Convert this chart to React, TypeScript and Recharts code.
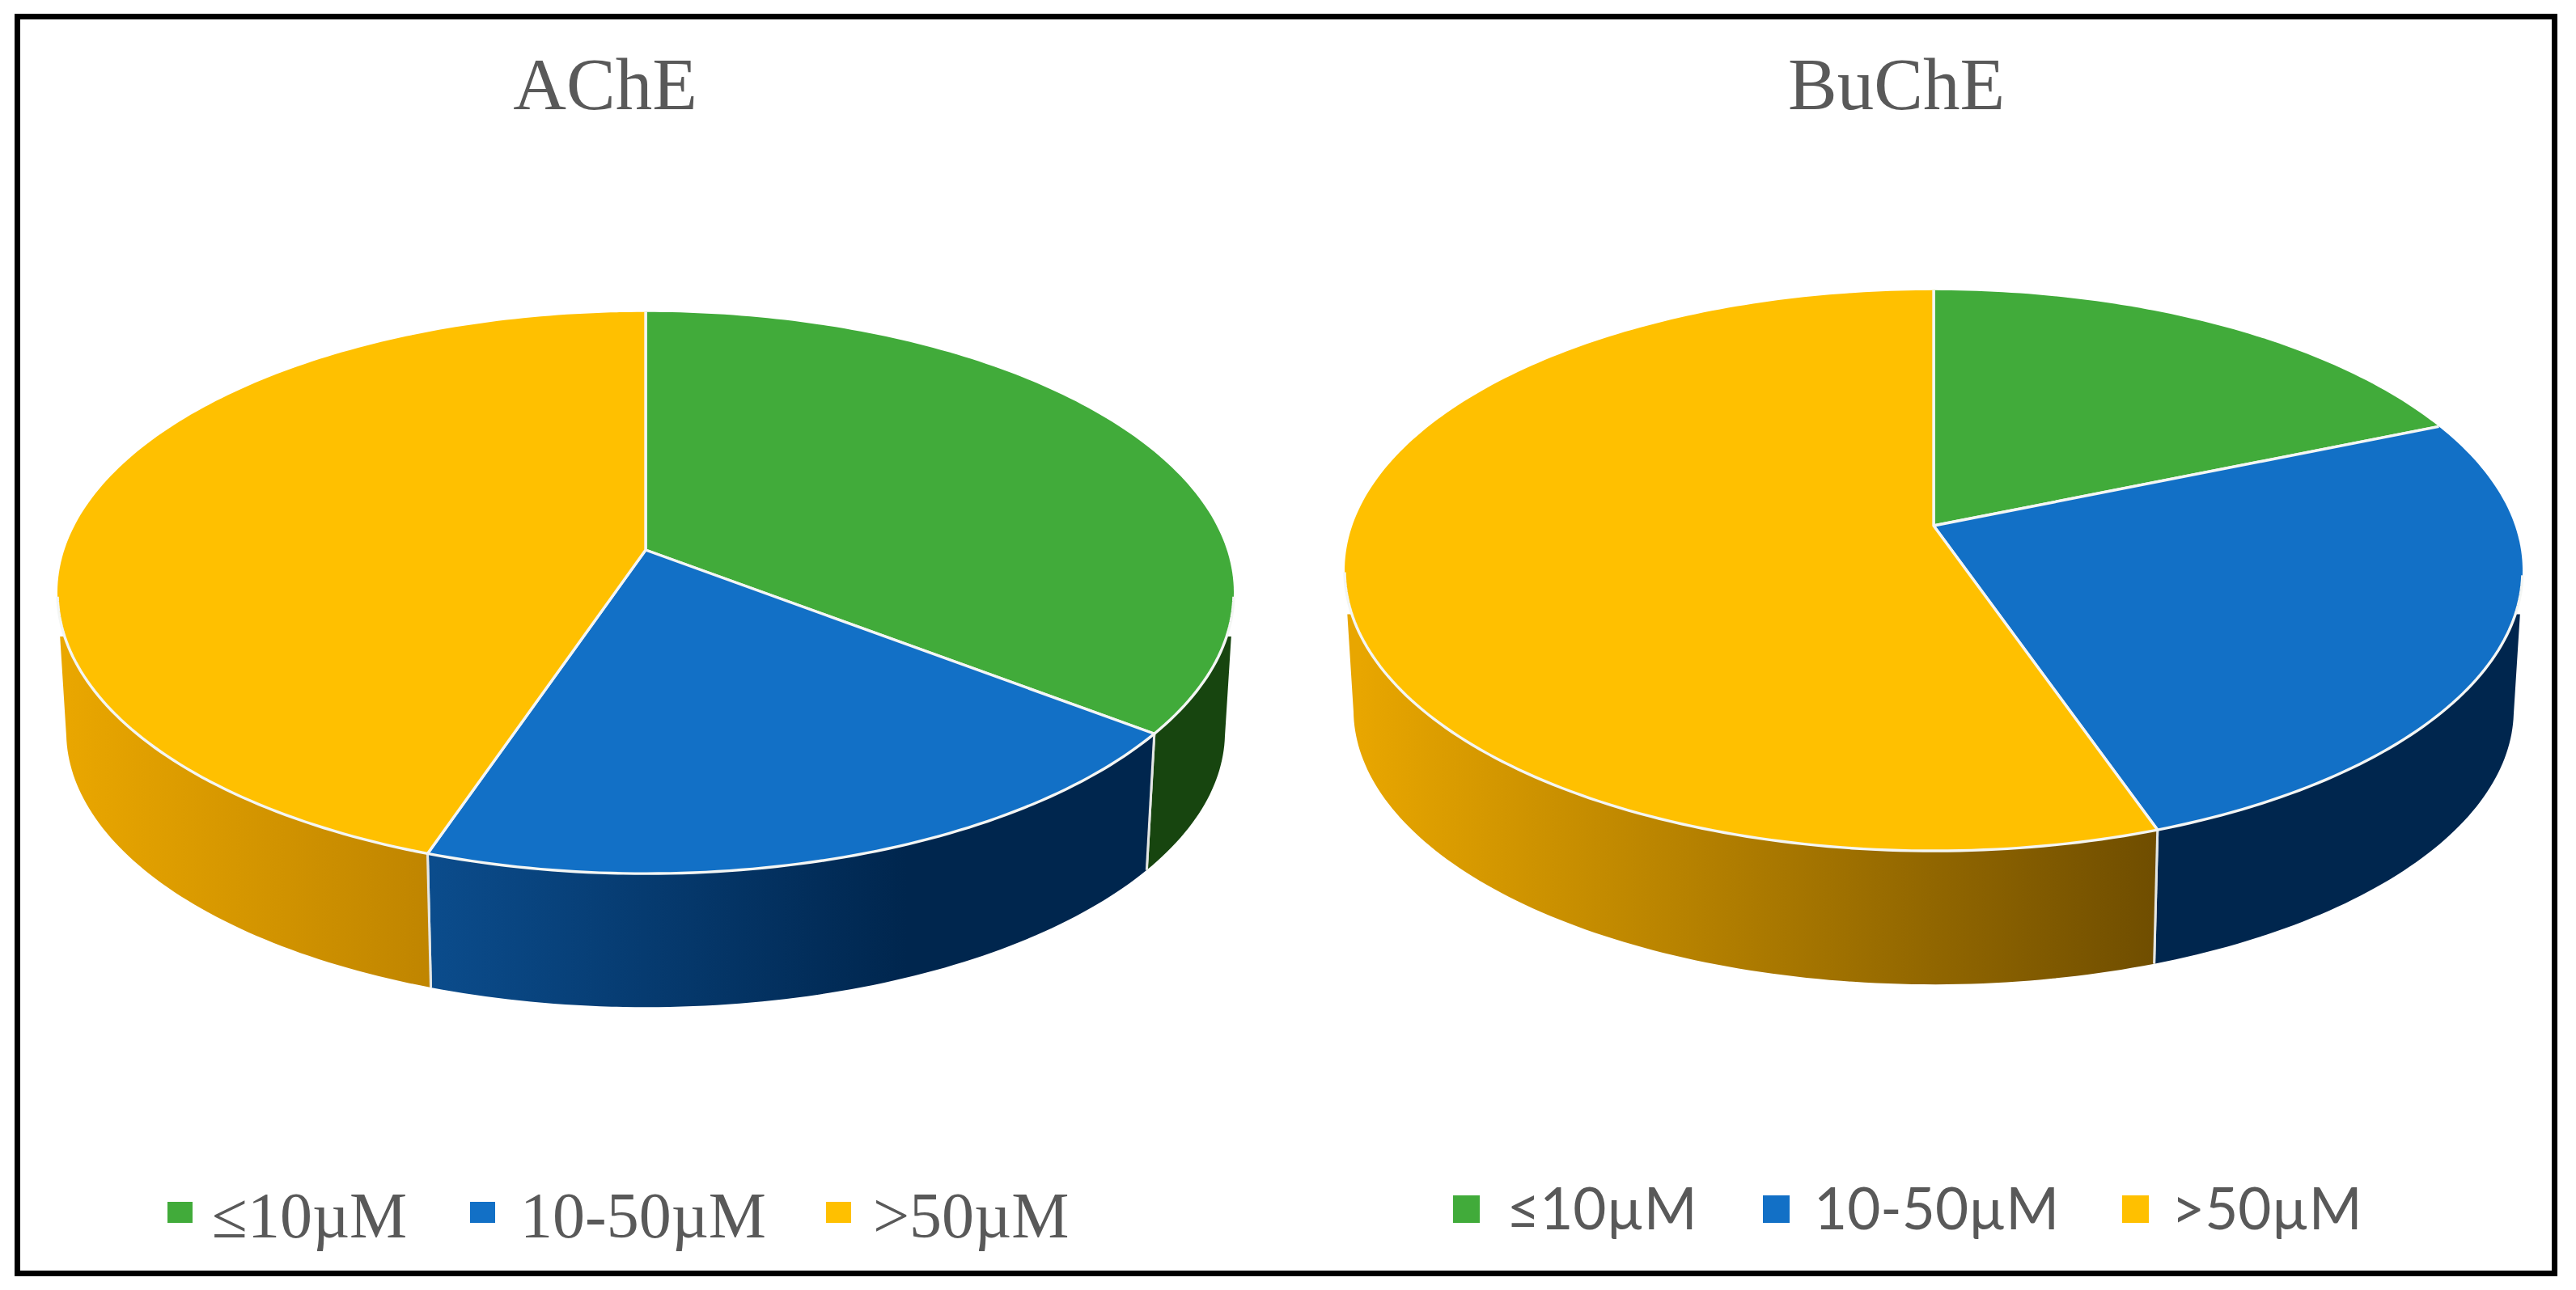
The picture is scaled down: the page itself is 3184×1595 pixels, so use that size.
import React from "react";
import { PieChart, Pie, Cell, Legend } from "recharts";

// ---- data ----
const categories = ["≤10µM", "10-50µM", ">50µM"];
const acheValues = [35.4, 19.8, 44.8];
const bucheValues = [18.7, 26.0, 55.3];

// ---- styles ----
const topColors = ["#41AB3A", "#1270C6", "#FFC000"];
const CW = 1592;
const CH = 1595;
const RIM = "#F4F6F4";

type Wall = { x1: number; x2: number; stops: [number, string][] };
type Cfg = {
  id: string; title: string; values: number[]; cx: number; cy: number; radius: number;
  flat: number; tilt: number; titleX: number; titleSize: number; titleY: number;
  walls: Wall[]; legendFont: string; legendSize: number; legendBaseline: number;
  sqX: number[]; sqW: number; sqTop: number; sqH: number; textX: number[];
};

const GREEN_WALL: [number, string][] = [[0, "#17450F"], [1, "#17450F"]];
const NAVY: [number, string][] = [[0, "#00264E"], [1, "#00264E"]];

const leftCfg: Cfg = {
  id: "l", title: "AChE", values: acheValues, cx: 798, cy: 680, radius: 718.5, flat: 0.472, tilt: 0.1525,
  titleX: 748, titleSize: 91, titleY: 135,
  walls: [
    { x1: 0, x2: 1, stops: GREEN_WALL },
    { x1: 533, x2: 1120, stops: [[0, "#0B4C8C"], [1, "#00264E"]] },
    { x1: 74, x2: 1000, stops: [[0, "#EAA700"], [1, "#946200"]] },
  ],
  legendFont: "'Liberation Serif'", legendSize: 80, legendBaseline: 1530,
  sqX: [207, 581, 1021], sqW: 31, sqTop: 1486, sqH: 26, textX: [262, 643, 1079],
};

const rightCfg: Cfg = {
  id: "r", title: "BuChE", values: bucheValues, cx: 2390 - CW, cy: 650, radius: 718.6, flat: 0.47, tilt: 0.16,
  titleX: 2344 - CW, titleSize: 91, titleY: 135,
  walls: [
    { x1: 0, x2: 1, stops: GREEN_WALL },
    { x1: 0, x2: 1, stops: NAVY },
    { x1: 1680 - CW, x2: 2660 - CW, stops: [[0, "#E8A600"], [1, "#704E00"]] },
  ],
  legendFont: "Lato", legendSize: 71, legendBaseline: 1520,
  sqX: [1796 - CW, 2179 - CW, 2623 - CW], sqW: 33, sqTop: 1478, sqH: 34, textX: [1862 - CW, 2242 - CW, 2684 - CW],
};

function projector(p: any, cfg: Cfg) {
  const a = p.outerRadius;
  const b = a * cfg.flat;
  const k = cfg.tilt;
  return (deg: number): [number, number] => {
    const t = (deg * Math.PI) / 180;
    const u = Math.cos(t);
    const v = Math.sin(t);
    const w = 1 + k * v;
    return [p.cx + (a * u) / w, p.cy - (b * v) / w];
  };
}

function angleRange(p: any): number[] {
  const s = p.startAngle;
  const e = p.endAngle;
  const n = Math.max(2, Math.ceil(Math.abs(e - s)));
  const out: number[] = [];
  for (let i = 0; i <= n; i++) out.push(s + ((e - s) * i) / n);
  return out;
}

const fmt = (pt: [number, number]) => `${pt[0].toFixed(2)},${pt[1].toFixed(2)}`;
const isFront = (deg: number, cfg: Cfg) => Math.sin((deg * Math.PI) / 180) <= -cfg.tilt;

function makeTop(cfg: Cfg) {
  return (p: any) => {
    const at = projector(p, cfg);
    const pts = angleRange(p).map(at);
    const fill = `M${p.cx},${p.cy}L` + pts.map(fmt).join("L") + "Z";
    const spokes = `M${fmt(at(p.startAngle))}L${p.cx},${p.cy}L${fmt(at(p.endAngle))}`;
    const rimPts = angleRange(p).filter((d) => isFront(d, cfg)).map(at);
    return (
      <g>
        <path d={fill} fill={p.fill} stroke="none" />
        <path d={spokes} fill="none" stroke={RIM} strokeWidth={3.4} strokeLinejoin="round" />
        {rimPts.length > 1 && (
          <path d={"M" + rimPts.map(fmt).join("L")} fill="none" stroke={RIM} strokeWidth={3.4} strokeLinecap="butt" />
        )}
      </g>
    );
  };
}

function makeWall(cfg: Cfg) {
  return (p: any) => {
    const at = projector(p, cfg);
    const a = p.outerRadius;
    const b = a * cfg.flat;
    const k = cfg.tilt;
    const up = b / (1 + k);
    const down = b / (1 - k);
    const ellipseCy = p.cy + (down - up) / 2;
    const lower = (pt: [number, number]): [number, number] => [
      p.cx + 0.985 * (pt[0] - p.cx),
      ellipseCy + 172 + 0.98 * (pt[1] - ellipseCy),
    ];
    const front = angleRange(p).filter((d) => isFront(d, cfg));
    if (front.length < 2) return <g />;
    const tops = front.map(at);
    const bots = tops.map(lower).reverse();
    const idx = p.index ?? categories.indexOf(p.name);
    const wall = cfg.walls[idx];
    const gid = `wall-${cfg.id}-${idx}`;
    const seams: [number, number][] = [];
    [p.startAngle, p.endAngle].forEach((d: number) => {
      if (isFront(d, cfg)) seams.push(at(d));
    });
    return (
      <g>
        <defs>
          <linearGradient id={gid} gradientUnits="userSpaceOnUse" x1={wall.x1} x2={wall.x2} y1={0} y2={0}>
            {wall.stops.map(([o, c]) => (
              <stop key={o} offset={o} stopColor={c} />
            ))}
          </linearGradient>
          <clipPath id={`${gid}-clip`}>
            <rect x={0} y={ellipseCy + 54} width={CW} height={CH} />
          </clipPath>
        </defs>
        <path
          d={"M" + tops.concat(bots).map(fmt).join("L") + "Z"}
          fill={`url(#${gid})`}
          stroke="none"
          clipPath={`url(#${gid}-clip)`}
        />
        {seams.map((s, i) => {
          const l = lower(s);
          return <line key={i} x1={s[0]} y1={s[1]} x2={l[0]} y2={l[1]} stroke="#E4E6E4" strokeWidth={3} />;
        })}
      </g>
    );
  };
}

function makeLegend(cfg: Cfg) {
  return (props: any) => {
    const names = ((props.payload || []) as any[]).filter((it) => it.type !== "none").map((it) => it.value);
    const items = categories.filter((c) => names.includes(c));
    return (
      <svg width={CW} height={CH} style={{ display: "block", overflow: "visible" }}>
        {items.map((name) => {
          const i = categories.indexOf(name);
          return (
            <g key={name}>
              <rect x={cfg.sqX[i]} y={cfg.sqTop} width={cfg.sqW} height={cfg.sqH} fill={topColors[i]} />
              <text x={cfg.textX[i]} y={cfg.legendBaseline} fontFamily={cfg.legendFont} fontSize={cfg.legendSize} fill="#595959">
                {name}
              </text>
            </g>
          );
        })}
      </svg>
    );
  };
}

function OnePie({ cfg, left }: { cfg: Cfg; left: number }) {
  const rows = categories.map((name, i) => ({ name, value: cfg.values[i] }));
  const common = {
    data: rows, dataKey: "value", nameKey: "name", cx: cfg.cx, cy: cfg.cy,
    outerRadius: cfg.radius, innerRadius: 0, startAngle: 90, endAngle: -270,
    isAnimationActive: false,
  };
  return (
    <div style={{ position: "absolute", left, top: 0, width: CW, height: CH }}>
      <PieChart width={CW} height={CH} margin={{ top: 0, right: 0, bottom: 0, left: 0 }}>
        <text x={cfg.titleX} y={cfg.titleY} textAnchor="middle" fontFamily="'Liberation Serif'" fontSize={cfg.titleSize} fill="#595959">
          {cfg.title}
        </text>
        <Pie {...common} legendType="none" shape={makeWall(cfg)} label={false} labelLine={false}>
          {rows.map((r, i) => <Cell key={r.name} fill={topColors[i]} />)}
        </Pie>
        <Pie {...common} legendType="square" shape={makeTop(cfg)} label={false} labelLine={false}>
          {rows.map((r, i) => <Cell key={r.name} fill={topColors[i]} />)}
        </Pie>
        <Legend content={makeLegend(cfg)} itemSorter={null} wrapperStyle={{ position: "absolute", left: 0, top: 0, width: CW, height: 0, bottom: "auto", pointerEvents: "none" }} height={0} verticalAlign="top" />
      </PieChart>
    </div>
  );
}

export default function App() {
  return (
    <div style={{ position: "absolute", left: 0, top: 0, width: 3184, height: 1595, background: "#fff", overflow: "hidden" }}>
      <OnePie cfg={leftCfg} left={0} />
      <OnePie cfg={rightCfg} left={CW} />
      <div style={{ position: "absolute", left: 18, top: 17, width: 3143 - 14, height: 1561 - 14, border: "7px solid #000", boxSizing: "content-box" }} />
    </div>
  );
}
